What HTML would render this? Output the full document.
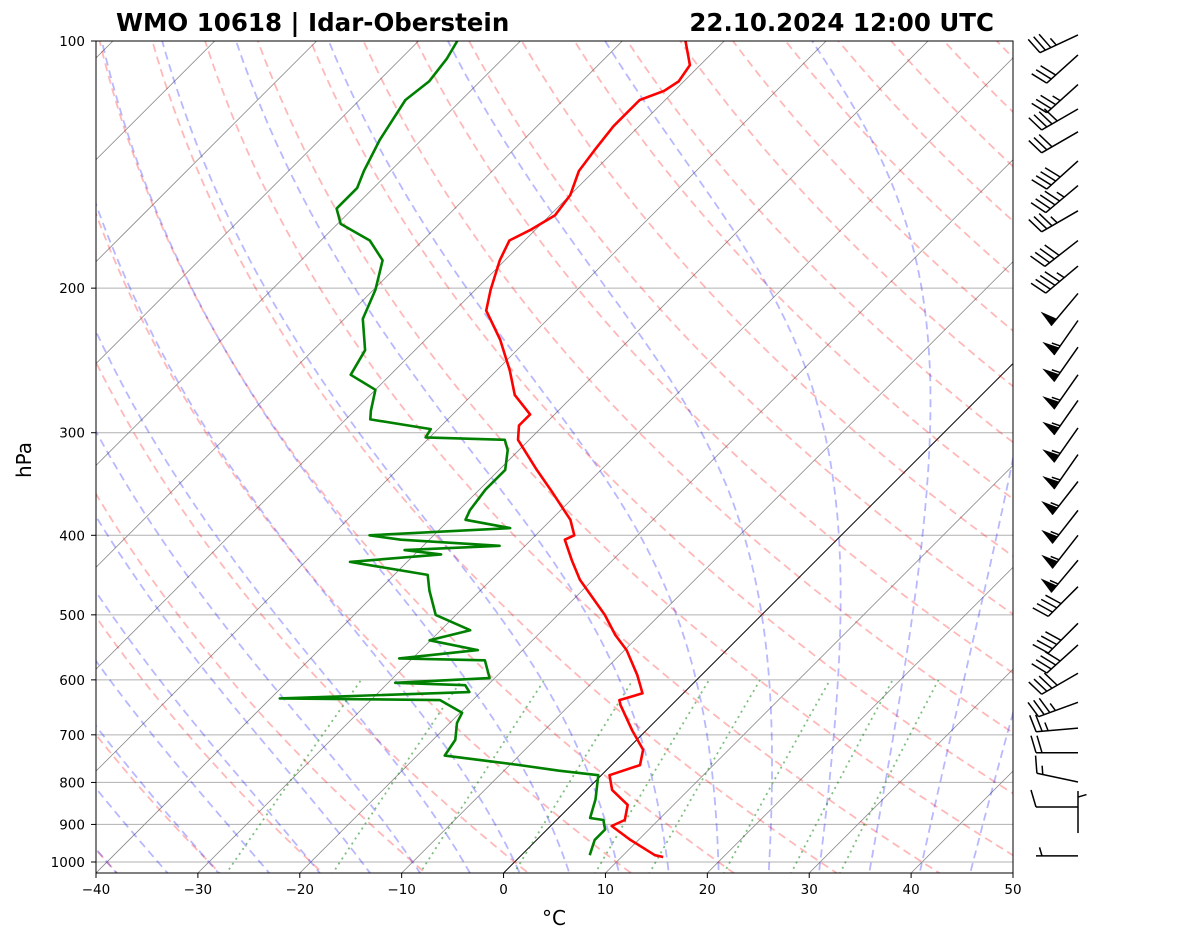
<!DOCTYPE html>
<html><head><meta charset="utf-8">
<style>
html,body{margin:0;padding:0;background:#fff;}
svg text{font-family:"DejaVu Sans","Liberation Sans",sans-serif;}
</style></head>
<body>
<svg id="chart" width="1181" height="941" viewBox="0 0 1181 941" xmlns="http://www.w3.org/2000/svg">
<defs><clipPath id="clip"><rect x="96" y="41" width="917" height="832"/></clipPath></defs>
<rect x="0" y="0" width="1181" height="941" fill="#fff"/>
<text x="116" y="31" font-size="24.5" font-weight="bold">WMO 10618 | Idar-Oberstein</text>
<text x="994" y="31" font-size="24.5" font-weight="bold" text-anchor="end">22.10.2024 12:00 UTC</text>
<g id="plot" clip-path="url(#clip)"></g>
<rect x="96" y="41" width="917" height="832" fill="none" stroke="#000" stroke-width="1"/>
<g id="axes"></g>
<g id="barbs"></g>
<text x="554" y="925" font-size="20" text-anchor="middle">°C</text>
<text transform="translate(31,460) rotate(-90)" font-size="20" text-anchor="middle">hPa</text>
</svg>
<script>
// ---- data ----
const tempP = [986,981,940,904,889,852,817,784,762,730,691,644,635,623,592,552,529,500,453,429,405,400,383,352,333,306,294,285,270,252,231,213,201,185,175,170,163,154,144,136,127,118,115,112,107,100];
const tempT = [14.1,13.1,9.2,6.0,6.7,5.5,2.5,0.8,2.8,1.6,-1.4,-5.0,-5.6,-4.0,-6.3,-9.8,-12.4,-15.4,-21.3,-24.0,-26.7,-26.2,-28.1,-33.0,-36.3,-41.1,-42.4,-42.4,-45.8,-48.7,-52.7,-56.9,-58.5,-60.5,-61.5,-60.5,-59.5,-60.0,-61.5,-62.0,-62.5,-62.5,-61.0,-60.5,-61.0,-63.8];
const dewP = [981,940,913,889,884,839,784,774,762,742,710,677,658,635,632,621,609,605,597,568,565,552,537,522,500,467,447,431,422,417,412,405,400,392,383,373,352,333,315,306,304,297,289,282,266,255,238,218,201,185,175,167,160,151,144,132,118,112,105,100];
const dewT = [6.7,5.7,5.7,4.6,3.1,1.8,-0.3,-4.6,-9.0,-17.3,-17.8,-19.3,-19.8,-23.2,-39.1,-21.1,-22.2,-29.3,-20.5,-22.7,-31.3,-24.4,-30.1,-27.1,-32.0,-35.0,-36.7,-45.6,-37.4,-41.4,-32.5,-42.8,-46.3,-33.2,-38.4,-38.9,-39.4,-39.4,-41.1,-42.4,-50.4,-50.7,-57.6,-58.4,-60.0,-63.9,-64.9,-68.2,-69.8,-72.0,-75.2,-79.7,-81.6,-81.6,-82.6,-84.1,-85.5,-85.0,-85.5,-86.2];
const barbP = [98.3,104,113,121,129,140,150,161,175,188,203,219,236,255,274,296,319,344,373,400,429,462,512,544,589,639,687,736,799,857,922,983];
const barbSpd = [35,30,35,40,30,40,45,35,40,45,50,55,55,55,55,55,55,55,55,55,55,40,40,40,40,35,25,20,15,10,5,5];
const barbDir = [245,228,228,240,240,228,230,240,232,230,220,215,215,215,215,215,215,218,218,218,220,225,225,228,240,250,265,270,282,270,360,270];
const xTicks = [-40,-30,-20,-10,0,10,20,30,40,50];
const yTicks = [100,200,300,400,500,600,700,800,900,1000];

// ---- axes functions ----
const X0=96, X1=1013, Y0=41, YB=873, DEC=821, SK=1.0, PX=(917/90);
function yOf(p){return Y0+(Math.log10(p)-2)*DEC;}
function xOf(T,p){return X0+(T+40)*PX+(YB-yOf(p))*SK;}
const NS="http://www.w3.org/2000/svg";
const plot=document.getElementById('plot'), axes=document.getElementById('axes'), barbs=document.getElementById('barbs');
function mk(tag,attrs,parent){const e=document.createElementNS(NS,tag);for(const k in attrs)e.setAttribute(k,attrs[k]);parent.appendChild(e);return e;}
function path(pts){return pts.map((q,i)=>(i?'L':'M')+q[0].toFixed(1)+','+q[1].toFixed(1)).join('');}

yTicks.forEach(p=>{
  const l=mk('line',{x1:X0,x2:X1,y1:yOf(p),y2:yOf(p),stroke:'#b0b0b0','stroke-width':1},plot);
  
  
  const t=mk('text',{x:85,y:yOf(p)+5,'font-size':13.5,'text-anchor':'end'},axes);t.textContent=p;
  
  
  mk('line',{x1:X0-5,x2:X0,y1:yOf(p),y2:yOf(p),stroke:'#000'},axes);
});
xTicks.forEach(T=>{
  const x=X0+(T+40)*PX;
  const t=mk('text',{x:x,y:894,'font-size':13.5,'text-anchor':'middle'},axes);t.textContent=(T<0?'\u2212'+(-T):T);
  
  
  mk('line',{x1:x,x2:x,y1:YB,y2:YB+5,stroke:'#000'},axes);
});
for(let T=-160;T<=50;T+=10){
  const pts=[[xOf(T,1100),yOf(1100)],[xOf(T,90),yOf(90)]];
  const l=mk('path',{d:path(pts),stroke:T===0?'#000':'#888','stroke-width':T===0?1:0.8,fill:'none'},plot);
  
  
}
const plist=[];for(let p=1100;p>=95;p-=5)plist.push(p);
for(let T0=-40;T0<=210;T0+=10){
  const th=T0+273.15;
  const pts=plist.map(p=>[xOf(th*Math.pow(p/1000,0.2857)-273.15,p),yOf(p)]);
  const l=mk('path',{d:path(pts),stroke:'#f00','stroke-opacity':0.28,'stroke-width':1.8,'stroke-dasharray':'8,5',fill:'none'},plot);
  
  
}
function es(T){return 6.112*Math.exp(17.67*T/(T+243.5));}
function dTdp(T,p){const Tk=T+273.15,rs=0.622*es(T)/(p-es(T)),Lv=2.501e6,Rd=287.04,Cp=1005.7;
  return (Rd*Tk+Lv*rs)/(Cp+Lv*Lv*rs*0.622/(Rd*Tk*Tk))/p;}
for(let T0=-40;T0<=50;T0+=5){
  let up=[],T=T0;
  for(let p=1000;p>=95;p-=2){up.push([xOf(T,p),yOf(p)]);T-=dTdp(T,p)*2;}
  T=T0;let dn=[];
  for(let p=1000;p<=1100;p+=2){dn.push([xOf(T,p),yOf(p)]);T+=dTdp(T,p)*2;}
  const pts=dn.reverse().concat(up);
  const l=mk('path',{d:path(pts),stroke:'#00f','stroke-opacity':0.28,'stroke-width':1.8,'stroke-dasharray':'8,5',fill:'none'},plot);
  
  
}
[0.0004,0.001,0.002,0.004,0.007,0.01,0.016,0.024,0.032].forEach(w=>{
  const pts=[];for(let p=1050;p>=600;p-=10){const e=w*p/(0.622+w),L=Math.log(e/6.112);pts.push([xOf(243.5*L/(17.67-L),p),yOf(p)]);}
  const l=mk('path',{d:path(pts),stroke:'#008000','stroke-opacity':0.5,'stroke-width':1.8,'stroke-dasharray':'2,4',fill:'none'},plot);
  
  
});
const tl=mk('path',{d:path(tempP.map((p,i)=>[xOf(tempT[i],p),yOf(p)])),stroke:'#f00','stroke-width':2.6,fill:'none','stroke-linejoin':'round'},plot);


const dl=mk('path',{d:path(dewP.map((p,i)=>[xOf(dewT[i],p),yOf(p)])),stroke:'#008000','stroke-width':2.6,fill:'none','stroke-linejoin':'round'},plot);


// wind barbs
barbP.forEach((p,i)=>{
  const g=mk('g',{},barbs);
  
  
  const bx=1078,by=yOf(p),d=barbDir[i]*Math.PI/180,L=42;
  const sx=Math.sin(d), sy=-Math.cos(d);
  const ex=bx+sx*L, ey=by+sy*L;
  mk('line',{x1:bx,y1:by,x2:ex,y2:ey,stroke:'#000','stroke-width':1.5},g);
  const px=-sy, py=sx;
  let s=barbSpd[i], pos=0, step=6;
  const bl=17;
  while(s>=50){const ax=ex-sx*pos, ay=ey-sy*pos, cx=ex-sx*(pos+9), cy=ey-sy*(pos+9);
    mk('path',{d:`M${ax},${ay}L${ax+px*bl-sx*4},${ay+py*bl-sy*4}L${cx},${cy}Z`,fill:'#000'},g);pos+=11;s-=50;}
  while(s>=10){const ax=ex-sx*pos, ay=ey-sy*pos;mk('line',{x1:ax,y1:ay,x2:ax+px*bl+sx*5,y2:ay+py*bl+sy*5,stroke:'#000','stroke-width':1.5},g);pos+=step;s-=10;}
  if(s>=5){if(pos===0)pos=step;const ax=ex-sx*pos, ay=ey-sy*pos;mk('line',{x1:ax,y1:ay,x2:ax+px*bl/2+sx*2.5,y2:ay+py*bl/2+sy*2.5,stroke:'#000','stroke-width':1.5},g);}
});
</script>
</body></html>
